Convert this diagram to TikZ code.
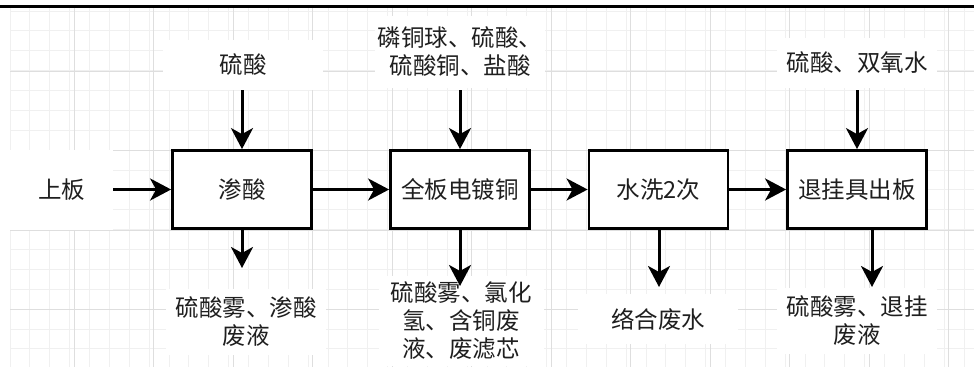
\documentclass[tikz,border=0pt]{standalone}
\usepackage{fontspec}
\setmainfont{Noto Sans CJK SC}
\usetikzlibrary{arrows.meta}
\begin{document}
\begin{tikzpicture}[x=1pt,y=-1pt,
  proc/.style={draw=black,line width=2.8pt,minimum width=139pt,minimum height=78pt,inner sep=0pt,fill=white,
    font=\fontsize{23.5}{28}\selectfont,text=black!88},
  lbl/.style={align=center,inner sep=0pt,font=\fontsize{23.5}{28}\selectfont,text=black!88,fill=white,
    minimum width=160pt,minimum height=50pt},
  flow/.style={line width=3pt,-{Stealth[length=21pt,width=22pt,inset=6pt]}},
  minorgrid/.style={draw=black!6,line width=0.8pt},
  majorgrid/.style={draw=black!13,line width=1pt}]
\useasboundingbox (0,0) rectangle (974,367);
\fill[white] (0,0) rectangle (974,367);
% grid
\foreach \i in {0,...,48} {\draw[minorgrid] ({10+\i*19.875},8) -- ({10+\i*19.875},367);}
\foreach \j in {0,...,18} {\draw[minorgrid] (10,{11+\j*19.875}) -- (974,{11+\j*19.875});}
\foreach \i in {0,...,11} {\draw[majorgrid] ({74+\i*79.5},8) -- ({74+\i*79.5},367);}
\foreach \j in {0,...,3} {\draw[majorgrid] (10,{71+\j*79.5}) -- (974,{71+\j*79.5});}
% top border
\draw[black,line width=2.4pt] (0,6.5) -- (974,6.5);
% process boxes
\node[proc] (p1) at (242,189.5) {渗酸};
\node[proc] (p2) at (460,189.5) {全板电镀铜};
\node[proc] (p3) at (658.5,189.5) {水洗2次};
\node[proc] (p4) at (857,189.5) {退挂具出板};
% labels
\node[lbl,minimum width=103pt,minimum height=80pt] (in0) at (61.5,190) {上板};
\node[lbl] (in1) at (243,65) {硫酸};
\node[lbl,minimum width=170pt,minimum height=72pt] (in2) at (460,52) {磷铜球、硫酸、\\硫酸铜、盐酸};
\node[lbl] (in4) at (857,63) {硫酸、双氧水};
\node[lbl,minimum height=66pt] (out1) at (246,322) {硫酸雾、渗酸\\废液};
\node[lbl,minimum width=165pt,minimum height=90pt] (out2) at (461,321) {硫酸雾、氯化\\氢、含铜废\\液、废滤芯};
\node[lbl] (out3) at (658,319) {络合废水};
\node[lbl,minimum height=66pt] (out4) at (857,321) {硫酸雾、退挂\\废液};
% free ends
\coordinate (s0) at (113,189.5);
\coordinate (t1) at (242,90);
\coordinate (t2) at (460,90);
\coordinate (t4) at (857,90);
\coordinate (b1) at (242,268);
\coordinate (b2) at (460,286);
\coordinate (b3) at (659,287);
\coordinate (b4) at (872,287);
% connectors
\draw[flow] (s0) -- (p1.west);
\draw[flow] (p1.east) -- (p2.west);
\draw[flow] (p2.east) -- (p3.west);
\draw[flow] (p3.east) -- (p4.west);
\draw[flow] (t1) -- (p1.north);
\draw[flow] (t2) -- (p2.north);
\draw[flow] (t4) -- (p4.north);
\draw[flow] (p1.south) -- (b1);
\draw[flow] (p2.south) -- (b2);
\draw[flow] (p3.south -| b3) -- (b3);
\draw[flow] (p4.south -| b4) -- (b4);
\end{tikzpicture}
\end{document}
